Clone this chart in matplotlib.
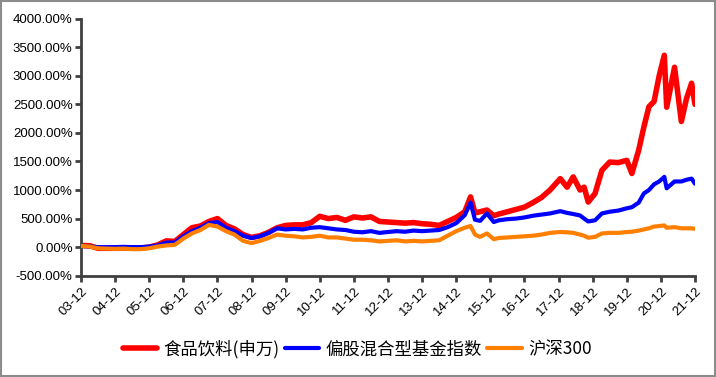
import matplotlib
matplotlib.use("Agg")
import matplotlib.pyplot as plt
from matplotlib.patches import Rectangle

# time in years since 2003-12
t = [0.00, 0.25, 0.50, 0.75, 1.00, 1.25, 1.50, 1.75, 2.00, 2.25, 2.50, 2.75,
     3.00, 3.25, 3.50, 3.75, 4.00, 4.25, 4.50, 4.75, 5.00, 5.25, 5.50, 5.75,
     6.00, 6.25, 6.50, 6.75, 7.00, 7.25, 7.50, 7.75, 8.00, 8.25, 8.50, 8.75,
     9.00, 9.25, 9.50, 9.75, 10.00, 10.25, 10.50, 10.75, 11.00, 11.25, 11.42,
     11.55, 11.70, 11.90, 12.10, 12.25, 12.50, 12.75, 13.00, 13.25, 13.50,
     13.75, 14.05, 14.25, 14.43, 14.63, 14.75, 14.87, 15.07, 15.27, 15.50,
     15.75, 16.00, 16.15, 16.35, 16.50, 16.65, 16.80, 16.95, 17.10, 17.17,
     17.40, 17.60, 17.75, 17.90, 18.00]

food = [30, 25, -20, -20, -20, -15, -20, -15, 0, 40, 110, 100,
        220, 340, 370, 450, 500, 380, 320, 220, 170, 200, 260, 340,
        380, 390, 390, 430, 540, 500, 520, 470, 530, 510, 530, 450,
        440, 430, 420, 430, 410, 400, 380, 450, 520, 620, 880,
        600, 620, 650, 550, 580, 620, 660, 700, 780, 870,
        1000, 1200, 1050, 1230, 1000, 1050, 790, 940, 1345, 1490,
        1480, 1520, 1290, 1700, 2100, 2460, 2550, 3000, 3360, 2450,
        3150, 2200, 2600, 2870, 2500]

fund = [20, 10, 0, 0, 0, 5, 0, 0, 10, 30, 80, 80,
        190, 280, 340, 420, 440, 340, 280, 200, 160, 190, 250, 330,
        310, 320, 310, 340, 350, 330, 310, 300, 270, 260, 280, 250,
        265, 280, 270, 290, 280, 290, 300, 350, 420, 560, 780,
        480, 460, 590, 440, 470, 490, 500, 520, 550, 570,
        590, 630, 600, 580, 555, 500, 450, 470, 590, 620,
        640, 680, 700, 780, 940, 1000, 1100, 1150, 1230, 1030,
        1150, 1150, 1180, 1200, 1110]

hs300 = [20, 10, -20, -25, -30, -25, -35, -35, -20, 10, 30, 40,
         150, 240, 300, 390, 360, 280, 220, 110, 70, 110, 160, 220,
         200, 190, 170, 180, 200, 170, 170, 150, 130, 130, 120, 100,
         110, 120, 100, 110, 100, 110, 120, 200, 280, 340, 370,
         220, 180, 240, 140, 160, 170, 180, 190, 200, 220,
         250, 265, 260, 250, 220, 200, 165, 180, 240, 250,
         250, 265, 270, 290, 310, 330, 360, 370, 380, 340,
         350, 330, 330, 330, 320]

xtick_labels = ["%02d-12" % y for y in range(3, 22)]
yticks = list(range(-500, 4001, 500))

plt.rcParams['font.family'] = ['Liberation Sans', 'DejaVu Sans']

fig = plt.figure(figsize=(7.16, 3.77), dpi=100)
ax = fig.add_axes([81/716, 1-275.7/377, (695-81)/716, (275.7-18.7)/377])

ax.plot(t, food, color='#FF0000', lw=4.0, solid_capstyle='round', zorder=2, label='食品饮料(申万)')
ax.plot(t, fund, color='#0000FF', lw=3.0, solid_capstyle='round', zorder=3, label='偏股混合型基金指数')
ax.plot(t, hs300, color='#FF8000', lw=3.0, solid_capstyle='round', zorder=4, label='沪深300')

ax.set_xlim(0, 18)
ax.set_ylim(-500, 4000)
ax.set_yticks(yticks)
ax.set_yticklabels(["%.2f%%" % v for v in yticks], fontsize=9.5)
ax.set_xticks(range(len(xtick_labels)))
ax.set_xticklabels(xtick_labels, fontsize=9.5, rotation=45, ha='right', va='top',
                   rotation_mode='anchor')

for s in ['top', 'right']:
    ax.spines[s].set_visible(False)
for s in ['left', 'bottom']:
    ax.spines[s].set_color('#404040')
    ax.spines[s].set_linewidth(2)
ax.tick_params(axis='both', direction='out', length=4, width=2, color='#404040',
               labelcolor='black')
ax.tick_params(axis='y', pad=2)
ax.tick_params(axis='x', pad=3)

leg = fig.legend(loc='center', bbox_to_anchor=(357/716, 1-349/377), ncol=3,
                 frameon=False, prop={'family': ['Noto Sans CJK SC', 'DejaVu Sans'], 'size': 12.5},
                 handlelength=2.0, handletextpad=0.35, columnspacing=0.3, borderpad=0)

fig.patches.append(Rectangle((0.001, 0.002), 0.997, 0.995, transform=fig.transFigure,
                             fill=False, edgecolor='#8c8c8c', linewidth=1.5))

fig.savefig('out.png', dpi=100)
